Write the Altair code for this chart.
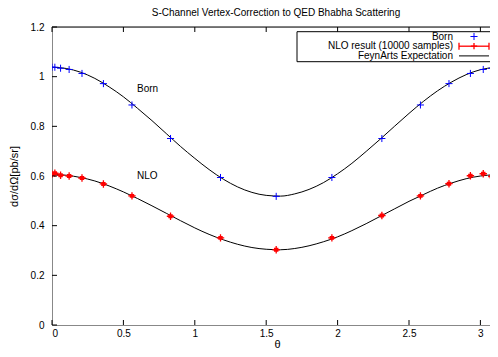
import altair as alt
import pandas as pd

# ---- data ----
theta_pts = [0.0, 0.02, 0.06, 0.12, 0.21, 0.36, 0.56, 0.83, 1.18, 1.57,
             1.96, 2.31, 2.58, 2.78, 2.93, 3.02, 3.08, 3.12, 3.1416]
born_pts = [1.038, 1.038, 1.034, 1.029, 1.013, 0.972, 0.886, 0.751, 0.594, 0.518,
            0.594, 0.751, 0.886, 0.972, 1.013, 1.029, 1.034, 1.038, 1.038]
nlo_pts = [0.607, 0.611, 0.603, 0.600, 0.592, 0.568, 0.520, 0.438, 0.351, 0.303,
           0.351, 0.441, 0.520, 0.569, 0.601, 0.609, 0.598, 0.609, 0.606]

theta_curve = [0.0, 0.1, 0.2, 0.3, 0.4, 0.5, 0.6, 0.7, 0.8, 0.9, 1.0, 1.1, 1.2,
               1.3, 1.4, 1.5, 1.6, 1.7, 1.8, 1.9, 2.0, 2.1, 2.2, 2.3, 2.4, 2.5,
               2.6, 2.7, 2.8, 2.9, 3.0, 3.1, 3.1416]
born_curve = [1.038, 1.033, 1.018, 0.993, 0.959, 0.919, 0.872, 0.823, 0.771,
              0.719, 0.671, 0.626, 0.587, 0.556, 0.534, 0.522, 0.519, 0.528,
              0.546, 0.573, 0.609, 0.651, 0.699, 0.749, 0.801, 0.852, 0.900,
              0.943, 0.979, 1.008, 1.028, 1.037, 1.038]
nlo_curve = [0.606, 0.603, 0.594, 0.580, 0.560, 0.536, 0.509, 0.480, 0.450,
             0.420, 0.391, 0.365, 0.343, 0.325, 0.312, 0.305, 0.303, 0.308,
             0.319, 0.335, 0.355, 0.380, 0.408, 0.438, 0.468, 0.498, 0.525,
             0.551, 0.572, 0.589, 0.600, 0.605, 0.606]

x_ticks = [0, 0.5, 1, 1.5, 2, 2.5, 3]
y_ticks = [0, 0.2, 0.4, 0.6, 0.8, 1.0, 1.2]

title_text = ["S-Channel Vertex-Correction to QED Bhabha Scattering"]
legend_labels = ["Born", "NLO result (10000 samples)", "FeynArts Expectation"]
annotations = ["Born", "NLO"]
annot_theta = [0.595, 0.595]
annot_value = [0.949, 0.598]

# ---- tables ----
curves = pd.DataFrame({
    "theta": theta_curve * 2,
    "value": born_curve + nlo_curve,
    "series": ["Born"] * len(theta_curve) + ["NLO"] * len(theta_curve),
})
born_df = pd.DataFrame({"theta": theta_pts, "value": born_pts})
nlo_df = pd.DataFrame({"theta": theta_pts, "value": nlo_pts})
xt_df = pd.DataFrame({"theta": x_ticks})
yt_df = pd.DataFrame({"value": y_ticks})
ann_df = pd.DataFrame({"theta": annot_theta, "value": annot_value, "label": annotations})

W, H = 438, 298
FONT = "Liberation Sans"
XMAX = W / 142.8
xs = alt.Scale(domain=[0, XMAX], nice=False, zero=False)
ys = alt.Scale(domain=[0, 1.2], nice=False)

PLUS = "M-1,0L1,0M0,-1L0,1"
NLO_SHAPE = "M-1,0L1,0M0,-1L0,1M-0.6,-0.35L0.6,-0.35M-0.6,0.35L0.6,0.35"

xaxis = alt.Axis(values=x_ticks, format="~g", ticks=False, tickSize=0, grid=False,
                 labelPadding=3, title="θ", titleX=225, titleY=22,
                 titleBaseline="alphabetic", titleFontWeight="normal")
yaxis = alt.Axis(values=y_ticks, format="~g", ticks=False, tickSize=0, grid=False,
                 labelPadding=8, title="dσ/dΩ[pb/sr]", titleX=-38, titleY=H / 2,
                 titleAngle=-90, titleBaseline="middle", titleAlign="center",
                 titleFontWeight="normal")

lines = alt.Chart(curves).mark_line(color="black", strokeWidth=1, clip=True,
                                    interpolate="monotone").encode(
    x=alt.X("theta:Q", scale=xs, axis=xaxis),
    y=alt.Y("value:Q", scale=ys, axis=yaxis),
    detail="series:N",
)

born_pts_layer = alt.Chart(born_df).mark_point(shape=PLUS, size=50, color="#0000ff",
                                               strokeWidth=1, filled=False, clip=True,
                                               opacity=1).encode(
    x="theta:Q", y="value:Q")
nlo_pts_layer = alt.Chart(nlo_df).mark_point(shape=NLO_SHAPE, size=55, color="#ff0000",
                                             strokeWidth=1.3, filled=False, clip=True,
                                             opacity=1).encode(
    x="theta:Q", y="value:Q")

# inward ticks (gnuplot style) and top border
bt = alt.Chart(xt_df).mark_rule(color="black", strokeWidth=1).encode(
    x="theta:Q", y=alt.value(H), y2=alt.value(H - 5))
tt = alt.Chart(xt_df).mark_rule(color="black", strokeWidth=1).encode(
    x="theta:Q", y=alt.value(0), y2=alt.value(5))
lt = alt.Chart(yt_df).mark_rule(color="black", strokeWidth=1).encode(
    y="value:Q", x=alt.value(0), x2=alt.value(5))
top_border = alt.Chart(pd.DataFrame({"value": [1.2]})).mark_rule(
    color="black", strokeWidth=1).encode(y="value:Q")

ann = alt.Chart(ann_df).mark_text(font=FONT, fontSize=10, align="left",
                                  baseline="middle", color="black").encode(
    x="theta:Q", y="value:Q", text="label:N")

title = alt.Chart(pd.DataFrame({"t": title_text})).mark_text(
    font=FONT, fontSize=10, align="center", baseline="middle", color="black"
).encode(x=alt.value(224), y=alt.value(-14.5), text="t:N")

# legend box (drawn by hand: gnuplot places labels left of the keys)
one = pd.DataFrame({"k": [0]})
box = alt.Chart(one).mark_rect(fill="white", stroke="black", strokeWidth=1).encode(
    x=alt.value(245), x2=alt.value(443), y=alt.value(4.7), y2=alt.value(34.7))
leg_rows = [9.5, 19.2, 28.9]
leg_texts = [
    alt.Chart(pd.DataFrame({"label": [lab]})).mark_text(
        font=FONT, fontSize=10, align="right", baseline="middle", color="black"
    ).encode(x=alt.value(401), y=alt.value(yy), text="label:N")
    for lab, yy in zip(legend_labels, leg_rows)
]
leg_born = alt.Chart(one).mark_point(shape=PLUS, size=50, color="#0000ff",
                                     strokeWidth=1, opacity=1).encode(
    x=alt.value(422), y=alt.value(leg_rows[0]))
leg_nlo_bar = alt.Chart(one).mark_rule(color="#ff0000", strokeWidth=1.3).encode(
    x=alt.value(407), x2=alt.value(437), y=alt.value(leg_rows[1]))
leg_nlo_cap1 = alt.Chart(one).mark_rule(color="#ff0000", strokeWidth=1.3).encode(
    x=alt.value(407), y=alt.value(leg_rows[1] - 3.5), y2=alt.value(leg_rows[1] + 3.5))
leg_nlo_cap2 = alt.Chart(one).mark_rule(color="#ff0000", strokeWidth=1.3).encode(
    x=alt.value(437), y=alt.value(leg_rows[1] - 3.5), y2=alt.value(leg_rows[1] + 3.5))
leg_nlo_pt = alt.Chart(one).mark_point(shape=PLUS, size=40, color="#ff0000",
                                       strokeWidth=1.3, opacity=1).encode(
    x=alt.value(422), y=alt.value(leg_rows[1]))
leg_line = alt.Chart(one).mark_rule(color="black", strokeWidth=1).encode(
    x=alt.value(407), x2=alt.value(437), y=alt.value(leg_rows[2]))

chart = alt.layer(
    lines, born_pts_layer, nlo_pts_layer, bt, tt, lt, top_border, ann, title,
    box, *leg_texts, leg_born, leg_nlo_bar, leg_nlo_cap1, leg_nlo_cap2,
    leg_nlo_pt, leg_line,
).properties(
    width=W, height=H,
    autosize=alt.AutoSizeParams(type="none"),
    padding={"left": 44, "top": 19, "right": 0, "bottom": 341 - 19 - H},
).configure_view(stroke=None).configure_axis(
    domainColor="black", domainWidth=1, labelColor="black", labelFont=FONT,
    labelFontSize=10, titleFont=FONT, titleFontSize=10, titleColor="black",
).configure(background="white")

chart.save("out.html", embed_options={"renderer": "svg", "actions": False})
